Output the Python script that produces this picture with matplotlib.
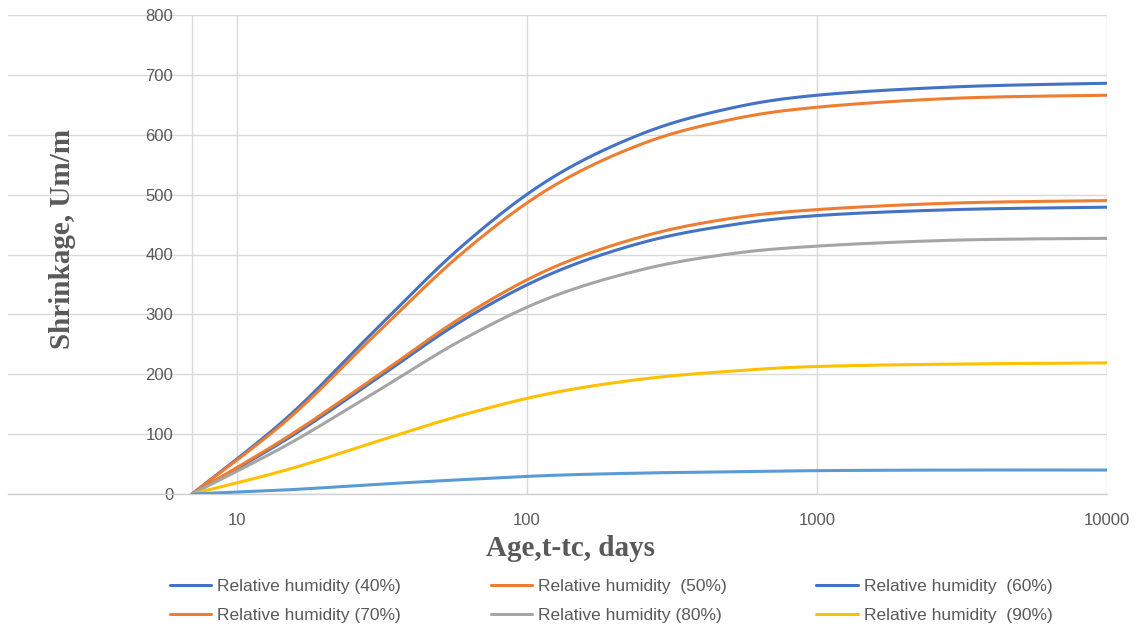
import numpy as np
import matplotlib
matplotlib.use("Agg")
import matplotlib.pyplot as plt

# ---- data ----
age = [7, 15, 30, 60, 120, 250, 500, 1000, 3000, 10000]
rh40 = [0, 129, 274, 415, 526, 602, 644, 666, 680, 686]
rh50 = [0, 125, 266, 403, 511, 585, 625, 646, 661, 666]
rh60 = [0, 93, 191, 290, 367, 420, 449, 465, 475, 479]
rh70 = [0, 96, 195, 296, 376, 430, 460, 475, 486, 490]
rh80 = [0, 83, 170, 258, 328, 375, 401, 414, 424, 427]
rh90 = [0, 41, 87, 132, 168, 192, 205, 213, 217, 219]
rh_extra = [0, 7, 16, 24, 31, 35, 37, 39, 40, 40]

labels = ["Relative humidity (40%)", "Relative humidity  (50%)", "Relative humidity  (60%)",
          "Relative humidity (70%)", "Relative humidity (80%)", "Relative humidity  (90%)"]
yticks = [0, 100, 200, 300, 400, 500, 600, 700, 800]
xticks = [10, 100, 1000, 10000]

colors = ["#4472C4", "#ED7D31", "#4472C4", "#ED7D31", "#A5A5A5", "#FFC000"]
extra_color = "#5B9BD5"


def smooth(xs, ys, n=30):
    """Excel-like Catmull-Rom smoothing in (log x, y) display-proportional space."""
    u = np.log10(np.asarray(xs, float)) * 290.0
    v = np.asarray(ys, float) * 0.599
    P = np.column_stack([u, v])
    m = len(P)
    out = [P[0]]
    for i in range(m - 1):
        p0 = P[i - 1] if i > 0 else P[i]
        p1 = P[i]
        p2 = P[i + 1]
        p3 = P[i + 2] if i + 2 < m else P[i + 1]
        c1 = p1 + (p2 - p0) / 6.0
        c2 = p2 - (p3 - p1) / 6.0
        t = np.linspace(0, 1, n)[1:, None]
        seg = ((1 - t) ** 3) * p1 + 3 * ((1 - t) ** 2) * t * c1 + 3 * (1 - t) * t ** 2 * c2 + t ** 3 * p2
        out.extend(seg)
    out = np.array(out)
    return 10 ** (out[:, 0] / 290.0), out[:, 1] / 0.599


W, H = 1137, 628
fig = plt.figure(figsize=(W / 100, H / 100), dpi=100)
left, right, top, bottom = 8, 1107, 15, 494
ax = fig.add_axes([left / W, 1 - bottom / H, (right - left) / W, (bottom - top) / H])

ax.set_xscale("log")
xmin = 10 ** (1 + (left - 237) / 290.0)
ax.set_xlim(xmin, 10000)
ax.set_ylim(0, 800)

series = [rh40, rh50, rh60, rh70, rh80, rh90]
handles = []
for ys, c, lab in zip(series, colors, labels):
    sx, sy = smooth(age, ys)
    ln, = ax.plot(sx, sy, color=c, lw=2.2, solid_capstyle="round", label=lab, zorder=3)
    handles.append(ln)
sx, sy = smooth(age, rh_extra)
ax.plot(sx, sy, color=extra_color, lw=2.2, solid_capstyle="round", zorder=3)

ax.set_xticks(xticks)
ax.set_xticklabels([str(v) for v in xticks])
ax.xaxis.set_minor_locator(matplotlib.ticker.NullLocator())
ax.set_yticks(yticks)
ax.set_yticklabels([str(v) for v in yticks])

ax.grid(True, color="#D9D9D9", lw=1.0, zorder=0)
ax.set_axisbelow(True)
for s in ["top", "right"]:
    ax.spines[s].set_visible(False)
ax.spines["left"].set_position(("data", 7))
ax.spines["left"].set_color("#D9D9D9")
ax.spines["left"].set_linewidth(1.0)
ax.spines["bottom"].set_color("#D0D0D0")
ax.spines["bottom"].set_linewidth(1.0)

ax.tick_params(axis="both", length=0, colors="#595959", labelsize=12)
ax.tick_params(axis="y", pad=13.5)
ax.tick_params(axis="x", pad=14)
for lbl in ax.get_xticklabels() + ax.get_yticklabels():
    lbl.set_fontfamily("Liberation Sans")

title_font = dict(family="Liberation Serif", weight="bold", size=21, color="#595959")
fig.text(570 / W, 1 - 548 / H, "Age,t-tc, days", ha="center", va="center", **title_font)
fig.text(62 / W, 1 - 239 / H, "Shrinkage, Um/m", ha="center", va="center", rotation=90, **title_font)

order = [0, 3, 1, 4, 2, 5]
leg = fig.legend([handles[i] for i in order], [labels[i] for i in order], ncol=3,
                 loc="upper left", bbox_to_anchor=(154 / W, 1 - 563 / H),
                 frameon=False, handlelength=2.4, handletextpad=0.35,
                 columnspacing=5.15, labelspacing=0.8,
                 prop=dict(family="Liberation Sans", size=12.5), labelcolor="#595959")

fig.savefig("out.png", dpi=100)
